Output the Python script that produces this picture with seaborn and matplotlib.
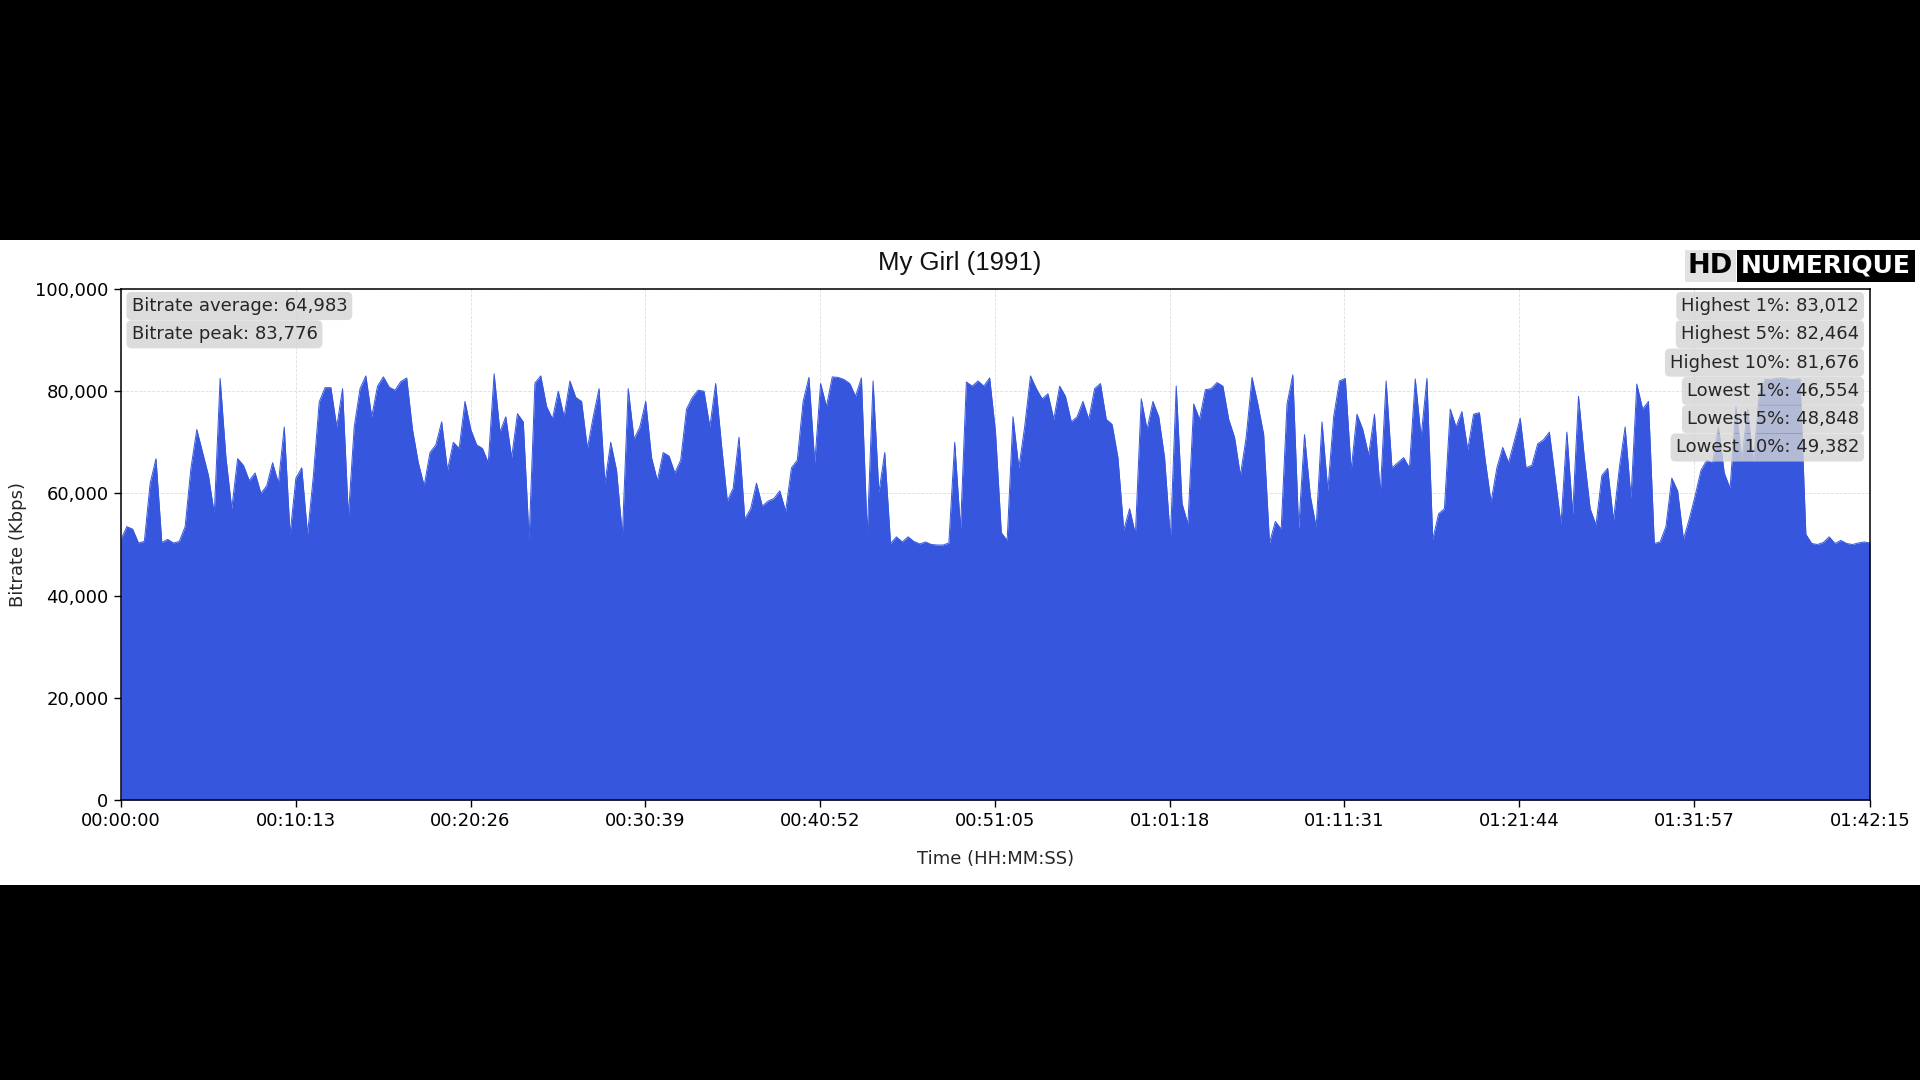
import numpy as np
import pandas as pd
import matplotlib
matplotlib.use("Agg")
import matplotlib.pyplot as plt
import seaborn as sns
from matplotlib.patches import Rectangle
from matplotlib.ticker import FuncFormatter

# ---------------- data ----------------
title = "My Girl (1991)"
duration_s = 6135  # 01:42:15

# bitrate samples (thousands of Kbps), evenly spread over the duration
bitrate_k = [
    51.0, 53.5, 53.0, 50.3, 50.6, 62.0, 66.8, 50.4, 51.0, 50.3,
    50.6, 53.5, 65.0, 72.5, 68.0, 63.5, 56.0, 82.5, 67.0, 57.0,
    66.8, 65.5, 62.5, 64.0, 60.0, 61.5, 66.0, 62.0, 73.0, 52.0,
    63.0, 65.0, 52.0, 63.5, 77.9, 80.7, 80.7, 73.0, 80.5, 55.5,
    73.0, 80.5, 83.0, 75.0, 81.0, 82.8, 80.8, 80.2, 81.9, 82.6,
    72.5, 66.0, 61.5, 68.0, 69.5, 74.0, 64.5, 70.0, 68.8, 78.0,
    72.5, 69.5, 68.8, 66.0, 83.4, 72.0, 75.0, 67.0, 75.6, 74.0,
    51.0, 81.6, 83.0, 77.0, 74.6, 80.0, 75.0, 82.0, 78.8, 78.0,
    68.8, 75.0, 80.5, 62.0, 70.0, 64.5, 51.8, 80.5, 70.6, 73.0,
    78.0, 67.0, 62.5, 68.0, 67.3, 64.0, 66.5, 76.5, 78.8, 80.2,
    80.0, 73.0, 81.5, 69.5, 58.5, 61.0, 71.0, 55.0, 57.0, 62.0,
    57.5, 58.5, 59.0, 60.5, 56.5, 65.0, 66.5, 78.0, 82.7, 66.0,
    81.5, 77.0, 82.8, 82.7, 82.3, 81.5, 79.0, 82.6, 52.0, 82.0,
    60.2, 68.0, 50.2, 51.5, 50.5, 51.5, 50.6, 50.1, 50.5, 50.0,
    49.9, 49.9, 50.3, 70.0, 53.0, 81.8, 81.0, 82.0, 81.0, 82.6,
    72.0, 52.3, 50.8, 75.0, 65.0, 73.0, 83.0, 80.5, 78.5, 79.5,
    74.5, 81.0, 79.0, 74.0, 75.0, 78.0, 74.5, 80.5, 81.5, 74.5,
    73.5, 67.0, 52.8, 57.0, 52.0, 78.5, 72.5, 78.0, 75.0, 67.0,
    51.0, 81.0, 58.0, 54.0, 77.5, 74.5, 80.3, 80.5, 81.7, 81.0,
    74.5, 71.0, 63.5, 71.0, 82.7, 77.5, 71.5, 50.3, 54.5, 53.0,
    77.5, 83.2, 53.0, 71.5, 59.5, 53.4, 74.0, 60.5, 75.0, 82.0,
    82.5, 64.5, 75.5, 72.5, 67.5, 75.5, 60.0, 82.0, 65.0, 66.0,
    67.0, 65.0, 82.4, 71.0, 82.5, 51.0, 56.0, 57.0, 76.5, 73.0,
    76.0, 68.5, 75.5, 75.8, 66.5, 58.3, 65.0, 69.0, 66.0, 70.3,
    74.7, 65.0, 65.5, 69.7, 70.5, 72.0, 63.0, 54.0, 72.0, 56.0,
    79.0, 67.0, 57.0, 53.8, 63.5, 64.9, 54.7, 65.0, 73.0, 59.0,
    81.4, 76.5, 78.0, 50.2, 50.5, 53.5, 63.0, 60.5, 51.0, 55.0,
    59.5, 64.5, 66.5, 66.0, 73.0, 64.0, 61.0, 77.0, 66.5, 76.5,
    66.0, 79.5, 82.3, 82.3, 82.5, 82.6, 82.3, 82.3, 82.4, 52.0,
    50.2, 50.0, 50.4, 51.5, 50.2, 50.8, 50.2, 50.0, 50.3, 50.5,
    50.3,
]

xtick_seconds = [0, 613, 1226, 1839, 2452, 3065, 3678, 4291, 4904, 5517, 6135]
xtick_labels = ["00:00:00", "00:10:13", "00:20:26", "00:30:39", "00:40:52",
                "00:51:05", "01:01:18", "01:11:31", "01:21:44", "01:31:57",
                "01:42:15"]
ytick_values = [0, 20000, 40000, 60000, 80000, 100000]

left_stats = ["Bitrate average: 64,983", "Bitrate peak: 83,776"]
right_stats = ["Highest 1%: 83,012", "Highest 5%: 82,464", "Highest 10%: 81,676",
               "Lowest 1%: 46,554", "Lowest 5%: 48,848", "Lowest 10%: 49,382"]

# ---------------- figure ----------------
times = np.linspace(0, duration_s, len(bitrate_k))
df = pd.DataFrame({"time": times, "kbps": np.array(bitrate_k) * 1000})

sns.set_style("white")
plt.rcParams["font.family"] = ["DejaVu Sans"]

FS = 13
W, H = 1920, 1080
fig = plt.figure(figsize=(19.2, 10.8), dpi=100, facecolor="black")
# white chart band (behind everything)
fig.patches.append(Rectangle((0, (H - 885) / H), 1, (885 - 240) / H,
                             transform=fig.transFigure, facecolor="white",
                             edgecolor="none", zorder=-10))

ax = fig.add_axes([121 / W, (H - 800) / H, (1870 - 121) / W, (800 - 289) / H])
ax.set_zorder(1)
ax.set_facecolor("white")

blue = "#3556DD"
sns.lineplot(data=df, x="time", y="kbps", color=blue, linewidth=0.7, ax=ax)
ax.fill_between(df["time"], df["kbps"], color=blue, linewidth=0)

ax.set_xlim(0, duration_s)
ax.set_ylim(0, 100000)
ax.set_xticks(xtick_seconds)
ax.set_xticklabels(xtick_labels)
ax.set_yticks(ytick_values)
ax.yaxis.set_major_formatter(FuncFormatter(lambda v, p: f"{int(v):,}"))

ax.set_axisbelow(True)
ax.grid(True, linestyle="--", color="#d0d0d0", linewidth=0.6, alpha=0.7)
for s in ax.spines.values():
    s.set_visible(True)
    s.set_color("black")
    s.set_linewidth(1.1)
ax.tick_params(axis="both", which="major", bottom=True, left=True,
               direction="out", length=5, width=1, labelsize=FS,
               colors="black", pad=4)

ax.set_xlabel("Time (HH:MM:SS)", fontsize=FS, labelpad=14)
ax.set_ylabel("Bitrate (Kbps)", fontsize=FS, labelpad=6)

box = dict(boxstyle="round,pad=0.28", facecolor="#d4d4d4", edgecolor="none", alpha=0.8)
row = 28.3 / (800 - 289)
top = 1 - 17 / (800 - 289)
for i, s in enumerate(left_stats):
    ax.text(10.5 / 1749, top - i * row, s, transform=ax.transAxes,
            ha="left", va="center", fontsize=FS, bbox=box, zorder=5)
for i, s in enumerate(right_stats):
    ax.text(1 - 11 / 1749, top - i * row, s, transform=ax.transAxes,
            ha="right", va="center", fontsize=FS, bbox=box, zorder=5)

# title
fig.text(0.5, (H - 263) / H, title, ha="center", va="center",
         fontsize=18.5, family=["Liberation Sans", "DejaVu Sans"], color="#111111")

# logo
fig.text(1733 / W, (H - 266) / H, "HD", ha="right", va="center",
         fontsize=19.5, fontweight="heavy", color="black",
         bbox=dict(boxstyle="square,pad=0.1", facecolor="#e2e2e2", edgecolor="none"))
fig.text(1741 / W, (H - 266) / H, "NUMERIQUE", ha="left", va="center",
         fontsize=18, fontweight="heavy", color="white",
         bbox=dict(boxstyle="square,pad=0.15", facecolor="black", edgecolor="none"))

fig.savefig("out.png", dpi=100, facecolor=fig.get_facecolor())
